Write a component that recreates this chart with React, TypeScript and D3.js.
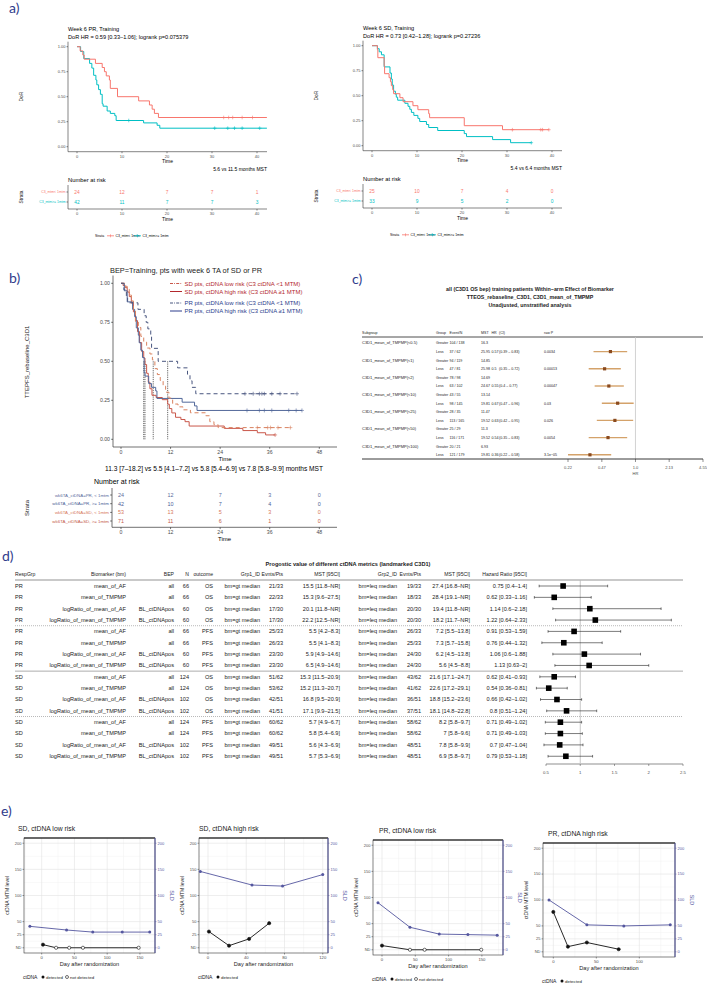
import * as d3 from 'd3';

type Step = [number, number];

const SANS = "'Liberation Sans', Arial, Helvetica, sans-serif";
const TAG_FONT = "Lato, 'Open Sans', sans-serif";
const TAG_COLOR = '#303c8c';
const AXIS_TXT = '#4d4d4d';

// ---------- a) DoR by C3 ctDNA, week 6 PR / week 6 SD ----------
const aPrLow: Step[] = [[0, 1], [0.7, 0.958], [1.3, 0.917], [1.6, 0.875], [4.1, 0.833], [5.6, 0.792], [6.1, 0.75], [6.5, 0.708], [7.2, 0.667], [7.4, 0.583], [9.0, 0.5], [13.7, 0.458], [16.1, 0.417], [16.7, 0.375], [17.2, 0.333], [18.1, 0.292]];
const aPrLowCensor = [32.6, 33.7, 34.6, 36.7, 39.0];
const aPrHigh: Step[] = [[0, 1], [0.8, 0.952], [1.5, 0.881], [2.8, 0.833], [3.3, 0.786], [3.7, 0.714], [4.2, 0.667], [4.4, 0.619], [4.8, 0.571], [5.2, 0.524], [5.6, 0.429], [5.8, 0.405], [6.7, 0.357], [7.4, 0.333], [8.4, 0.31], [8.7, 0.262], [14.8, 0.238], [17.8, 0.214], [18.4, 0.185]];
const aPrHighCensor = [11.5, 30.6, 33.5, 35.0, 36.7, 40.6];
const aSdLow: Step[] = [[0, 1], [1.2, 0.96], [1.3, 0.88], [2.7, 0.8], [2.8, 0.72], [3.8, 0.68], [4.1, 0.64], [4.3, 0.6], [4.6, 0.56], [4.8, 0.52], [6.2, 0.48], [6.9, 0.44], [9.1, 0.4], [10.2, 0.36], [12.6, 0.32], [12.8, 0.28], [20.5, 0.2], [29.0, 0.16]];
const aSdLowCensor = [31.2, 37.5, 37.9, 39.3];
const aSdHigh: Step[] = [[0, 1], [1.2, 0.97], [1.6, 0.939], [2.1, 0.909], [2.7, 0.788], [4.0, 0.727], [4.3, 0.667], [4.5, 0.606], [4.8, 0.545], [5.2, 0.515], [5.4, 0.485], [5.7, 0.455], [7.3, 0.424], [8.0, 0.394], [8.4, 0.364], [8.75, 0.333], [9.3, 0.303], [10.2, 0.273], [10.6, 0.242], [12.1, 0.212], [12.6, 0.182], [14.6, 0.152], [20.5, 0.121], [21.0, 0.091], [26.8, 0.061], [30.8, 0.03]];
const aSdHighCensor = [35.4];
const aTimeTicks = [0, 10, 20, 30, 40];
const aSurvTicks = [0, 0.25, 0.5, 0.75, 1];
const aPrRiskLow = [24, 12, 7, 7, 1];
const aPrRiskHigh = [42, 11, 7, 7, 3];
const aSdRiskLow = [25, 10, 7, 4, 0];
const aSdRiskHigh = [33, 9, 5, 2, 0];
const aStrata = ['C3_mtm< 1mtm', 'C3_mtm>= 1mtm'];

// ---------- b) PFS, 4 groups ----------
const bTimeTicks = [0, 12, 24, 36, 48];
const bSdLow: Step[] = [[0, 1], [1, 0.981], [1.5, 0.962], [2, 0.925], [2.5, 0.887], [3, 0.83], [3.5, 0.755], [4.2, 0.717], [4.8, 0.66], [5.5, 0.623], [6.2, 0.585], [7, 0.547], [7.6, 0.509], [8.2, 0.453], [8.8, 0.415], [9.5, 0.377], [10.2, 0.34], [10.8, 0.302], [11.6, 0.264], [12.5, 0.226], [13.8, 0.208], [15, 0.189], [16.8, 0.17], [20.5, 0.151], [21.5, 0.113], [22.5, 0.094], [23.5, 0.075]];
const bSdLowCensor = [33, 35.5, 36.2, 38, 41];
const bSdHigh: Step[] = [[0, 1], [0.5, 0.986], [1, 0.972], [1.5, 0.944], [2, 0.915], [2.5, 0.873], [3, 0.817], [3.5, 0.761], [4, 0.69], [4.5, 0.62], [5, 0.563], [5.5, 0.521], [5.8, 0.479], [6.2, 0.423], [6.6, 0.366], [7, 0.324], [7.5, 0.282], [8.5, 0.268], [10, 0.254], [11.3, 0.225], [11.7, 0.197], [12.3, 0.169], [13.2, 0.141], [14.5, 0.127], [15.5, 0.113], [16.5, 0.085], [25, 0.07], [29.5, 0.056], [33, 0.042], [35, 0.028]];
const bSdHighCensor = [37.3];
const bPrLowCensor = [30, 32, 33.5, 34.1, 34.7, 36.5, 38.5, 42.6];
const bPrHighCensor = [30.5, 33.5, 34.7, 36.5, 40.6, 42.4, 43.8];
const bMedians = [5.5, 5.8, 7.8, 11.3];
const bRiskPrLow = [24, 12, 7, 3, 0];
const bRiskPrHigh = [42, 10, 7, 4, 0];
const bRiskSdLow = [53, 13, 5, 3, 0];
const bRiskSdHigh = [71, 11, 6, 1, 0];
const bStrata = ['wk6TA_ctDNA=PR, < 1mtm', 'wk6TA_ctDNA=PR, >= 1mtm', 'wk6TA_ctDNA=SD, < 1mtm', 'wk6TA_ctDNA=SD, >= 1mtm'];
const bLegend = ['SD pts, ctDNA low risk (C3 ctDNA <1 MTM)', 'SD pts, ctDNA high risk (C3 ctDNA \u22651 MTM)', 'PR pts, ctDNA low risk (C3 ctDNA <1 MTM)', 'PR pts, ctDNA high risk (C3 ctDNA \u22651 MTM)'];

// ---------- c) within-arm effect ----------
const cCutoffs = ['0.5', '1', '2', '10', '25', '50', '100'];
const cGreaterEvents = ['104 / 138', '94 / 119', '78 / 98', '43 / 55', '28 / 35', '25 / 29', '20 / 21'];
const cGreaterMst = [16.3, 14.85, 14.69, 13.14, 11.47, 11.3, 6.93];
const cLessEvents = ['37 / 62', '47 / 81', '63 / 102', '98 / 145', '113 / 165', '116 / 171', '121 / 179'];
const cLessMst = [25.95, 25.98, 24.67, 19.81, 19.52, 19.52, 19.81];
const cHr = [0.57, 0.5, 0.55, 0.67, 0.63, 0.54, 0.36];
const cLo = [0.39, 0.35, 0.4, 0.47, 0.42, 0.35, 0.22];
const cHi = [0.83, 0.72, 0.77, 0.96, 0.95, 0.83, 0.58];
const cP = ['0.0034', '0.00013', '0.00047', '0.03', '0.026', '0.0054', '3.1e\u221205'];
const cAxisTicks = [0.22, 0.47, 1.0, 2.13, 4.55];
const cAxisLabels = ['0.22', '0.47', '1.0', '2.13', '4.55'];

// ---------- d) prognostic value table ----------
const dResp = ['PR', 'PR', 'PR', 'PR', 'PR', 'PR', 'PR', 'PR', 'SD', 'SD', 'SD', 'SD', 'SD', 'SD', 'SD', 'SD'];
const dBiomarker = ['mean_of_AF', 'mean_of_TMPMP', 'logRatio_of_mean_of_AF', 'logRatio_of_mean_of_TMPMP', 'mean_of_AF', 'mean_of_TMPMP', 'logRatio_of_mean_of_AF', 'logRatio_of_mean_of_TMPMP', 'mean_of_AF', 'mean_of_TMPMP', 'logRatio_of_mean_of_AF', 'logRatio_of_mean_of_TMPMP', 'mean_of_AF', 'mean_of_TMPMP', 'logRatio_of_mean_of_AF', 'logRatio_of_mean_of_TMPMP'];
const dBep = ['all', 'all', 'BL_ctDNApos', 'BL_ctDNApos', 'all', 'all', 'BL_ctDNApos', 'BL_ctDNApos', 'all', 'all', 'BL_ctDNApos', 'BL_ctDNApos', 'all', 'all', 'BL_ctDNApos', 'BL_ctDNApos'];
const dN = [66, 66, 60, 60, 66, 66, 60, 60, 124, 124, 102, 102, 124, 124, 102, 102];
const dOutcome = ['OS', 'OS', 'OS', 'OS', 'PFS', 'PFS', 'PFS', 'PFS', 'OS', 'OS', 'OS', 'OS', 'PFS', 'PFS', 'PFS', 'PFS'];
const dG1Events = ['21/33', '22/33', '17/30', '17/30', '25/33', '26/33', '23/30', '23/30', '51/62', '53/62', '42/51', '41/51', '60/62', '60/62', '49/51', '49/51'];
const dG1Mst = ['15.5 [11.8\u2013NR]', '15.3 [9.6\u201327.5]', '20.1 [11.8\u2013NR]', '22.2 [12.5\u2013NR]', '5.5 [4.2\u20138.3]', '5.5 [4.1\u20138.3]', '5.9 [4.9\u201314.6]', '6.5 [4.9\u201314.6]', '15.3 [11.5\u201320.9]', '15.2 [11.3\u201320.7]', '16.8 [9.5\u201320.9]', '17.1 [9.9\u201321.5]', '5.7 [4.9\u20136.7]', '5.8 [5.4\u20136.9]', '5.6 [4.3\u20136.9]', '5.7 [5.3\u20136.9]'];
const dG2Events = ['19/33', '18/33', '20/30', '20/30', '26/33', '25/33', '24/30', '24/30', '43/62', '41/62', '36/51', '37/51', '58/62', '58/62', '48/51', '48/51'];
const dG2Mst = ['27.4 [16.8\u2013NR]', '28.4 [19.1\u2013NR]', '19.4 [11.8\u2013NR]', '18.2 [11.7\u2013NR]', '7.2 [5.5\u201313.8]', '7.3 [5.7\u201315.8]', '6.2 [4.5\u201313.8]', '5.6 [4.5\u20138.8]', '21.6 [17.1\u201324.7]', '22.6 [17.2\u201329.1]', '18.8 [15.2\u201323.6]', '18.1 [14.8\u201322.8]', '8.2 [5.8\u20139.7]', '7 [5.8\u20139.6]', '7.8 [5.8\u20139.9]', '6.9 [5.8\u20139.7]'];
const dHr = [0.75, 0.62, 1.14, 1.22, 0.91, 0.76, 1.06, 1.13, 0.62, 0.54, 0.66, 0.8, 0.71, 0.71, 0.7, 0.79];
const dLo = [0.4, 0.33, 0.6, 0.64, 0.53, 0.44, 0.6, 0.63, 0.41, 0.36, 0.42, 0.51, 0.49, 0.49, 0.47, 0.53];
const dHi = [1.4, 1.16, 2.18, 2.33, 1.59, 1.32, 1.88, 2, 0.93, 0.81, 1.02, 1.24, 1.02, 1.03, 1.04, 1.18];
const dAxisTicks = [0.5, 1, 1.5, 2, 2.5];

// ---------- e) patient profiles ----------
const e1SldDay = [-18, 38, 78, 123, 165];
const e1Sld = [41, 34, 30, 30, 30];
const e1CtDay = [2, 22, 42, 63, 148];
const e1Ct = [6, 0, 0, 0, 0];
const e1Detected = [true, false, false, false, false];
const e2SldDay = [-8, 46, 78, 120];
const e2Sld = [146, 120, 118, 140];
const e2CtDay = [1, 22, 43, 64];
const e2Ct = [31, 4, 17, 47];
const e2Detected = [true, true, true, true];
const e3SldDay = [-6, 42, 86, 129, 173];
const e3Sld = [90, 43, 30, 29, 28];
const e3CtDay = [0, 42, 64, 149];
const e3Ct = [8, 0, 0, 0];
const e3Detected = [true, false, false, false];
const e4SldDay = [-5, 39, 82, 136];
const e4Sld = [100, 52, 50, 52];
const e4CtDay = [0, 17, 39, 76];
const e4Ct = [77, 10, 18, 5];
const e4Detected = [true, true, true, true];
const eLevelTicks = [0, 25, 50, 100, 150, 200];
const eLevelLabels = ['ND', '25', '50', '100', '150', '200'];
const eSldLabels = ['0', '25', '50', '100', '150', '200'];

const A_RED = '#F8766D';
const A_TEAL = '#00BFC4';
const SD_LINE = '#c9574a';
const SD_DASH = '#d9825f';
const PR_LINE = '#52689a';
const PR_DASH = '#49567f';
const SLD_BLUE = '#55579f';

type Scale = (v: number) => number;

function kmPath(steps: Step[], end: number, x: Scale, y: Scale) {
  const pts: Step[] = [...steps, [end, steps[steps.length - 1][1]]];
  return d3.line<Step>().x((d) => x(d[0])).y((d) => y(d[1])).curve(d3.curveStepAfter)(pts) || '';
}

function survAt(steps: Step[], t: number) {
  let s = steps[0][1];
  steps.forEach(([tt, ss]) => {
    if (tt <= t) s = ss;
  });
  return s;
}

const Censors = ({ steps, times, x, y, color, size = 1.8 }: { steps: Step[]; times: number[]; x: Scale; y: Scale; color: string; size?: number }) => (
  <g stroke={color} strokeWidth={0.6}>
    {times.map((t, i) => {
      const cx = x(t);
      const cy = y(survAt(steps, t));
      return <path key={i} d={`M${cx},${cy - size}V${cy + size}M${cx - size},${cy}H${cx + size}`} />;
    })}
  </g>
);

const VText = ({ x, y, size, children, fill = '#222', rot = -90 }: any) => (
  <text transform={`translate(${x},${y}) rotate(${rot})`} textAnchor="middle" fontSize={size} fill={fill}>
    {children}
  </text>
);

type KMAProps = {
  ox: number;
  dy: number;
  title: string;
  subtitle: string;
  mst: string;
  low: Step[];
  lowCensor: number[];
  lowEnd: number;
  high: Step[];
  highCensor: number[];
  highEnd: number;
  riskLow: number[];
  riskHigh: number[];
};

const KMPanelA = ({ ox, dy, title, subtitle, mst, low, lowCensor, lowEnd, high, highCensor, highEnd, riskLow, riskHigh }: KMAProps) => {
  const x = d3.scaleLinear().domain([0, 40]).range([ox + 9, ox + 189]);
  const y = d3.scaleLinear().domain([0, 1]).range([146.7 + dy, 46.7 + dy]);
  const right = ox + 199;
  const top = 41.7 + dy;
  const bottom = 151.7 + dy;
  const tb = 209 + dy;
  const rowY = [192 + dy, 202 + dy];
  const ax = { stroke: '#333', strokeWidth: 0.6 };
  return (
    <g>
      <text x={ox} y={31 + dy} fontSize={5.6}>{title}</text>
      <text x={ox} y={39 + dy} fontSize={5.6}>{subtitle}</text>
      <line x1={ox} x2={ox} y1={top} y2={bottom} {...ax} />
      <line x1={ox} x2={right} y1={bottom} y2={bottom} {...ax} />
      {aSurvTicks.map((v) => (
        <g key={v}>
          <line x1={ox - 1.5} x2={ox} y1={y(v)} y2={y(v)} {...ax} />
          <text x={ox - 2.5} y={y(v) + 1.4} fontSize={4} textAnchor="end" fill={AXIS_TXT}>{v.toFixed(2)}</text>
        </g>
      ))}
      {aTimeTicks.map((t) => (
        <g key={t}>
          <line x1={x(t)} x2={x(t)} y1={bottom} y2={bottom + 1.5} {...ax} />
          <text x={x(t)} y={bottom + 6} fontSize={4} textAnchor="middle" fill={AXIS_TXT}>{t}</text>
        </g>
      ))}
      <text x={(ox + right) / 2} y={bottom + 11.5} fontSize={5} textAnchor="middle">Time</text>
      <VText x={ox - 45} y={(top + bottom) / 2} size={4.8}>DoR</VText>
      <path d={kmPath(high, highEnd, x, y)} fill="none" stroke={A_TEAL} strokeWidth={1} />
      <path d={kmPath(low, lowEnd, x, y)} fill="none" stroke={A_RED} strokeWidth={1} />
      <Censors steps={high} times={highCensor} x={x} y={y} color={A_TEAL} />
      <Censors steps={low} times={lowCensor} x={x} y={y} color={A_RED} />
      <text x={right} y={170.5 + dy} fontSize={5} textAnchor="end">{mst}</text>
      {/* risk table */}
      <text x={ox} y={181.5 + dy} fontSize={5.8}>Number at risk</text>
      <line x1={ox} x2={ox} y1={185 + dy} y2={tb} {...ax} />
      <line x1={ox} x2={right} y1={tb} y2={tb} {...ax} />
      {[riskLow, riskHigh].map((row, r) => (
        <g key={r} fill={r === 0 ? A_RED : A_TEAL}>
          <line x1={ox - 1.5} x2={ox} y1={rowY[r]} y2={rowY[r]} {...ax} />
          <text x={ox - 2.5} y={rowY[r] + 1.2} fontSize={3.4} textAnchor="end">{aStrata[r]}</text>
          {row.map((n, i) => (
            <text key={i} x={x(aTimeTicks[i])} y={rowY[r] + 1.8} fontSize={4.8} textAnchor="middle">{n}</text>
          ))}
        </g>
      ))}
      {aTimeTicks.map((t) => (
        <g key={t}>
          <line x1={x(t)} x2={x(t)} y1={tb} y2={tb + 1.5} {...ax} />
          <text x={x(t)} y={tb + 6} fontSize={4} textAnchor="middle" fill={AXIS_TXT}>{t}</text>
        </g>
      ))}
      <text x={(ox + right) / 2} y={tb + 11.5} fontSize={5} textAnchor="middle">Time</text>
      <VText x={ox - 45} y={(rowY[0] + rowY[1]) / 2} size={4.8}>Strata</VText>
      {/* legend */}
      <g fontSize={3.4}>
        <text x={ox + 27} y={237 + dy}>Strata</text>
        <line x1={ox + 39} x2={ox + 46} y1={235.8 + dy} y2={235.8 + dy} stroke={A_RED} strokeWidth={0.8} />
        <line x1={ox + 42.5} x2={ox + 42.5} y1={234.3 + dy} y2={237.3 + dy} stroke={A_RED} strokeWidth={0.6} />
        <text x={ox + 47.5} y={237 + dy}>{aStrata[0]}</text>
        <line x1={ox + 66} x2={ox + 73} y1={235.8 + dy} y2={235.8 + dy} stroke={A_TEAL} strokeWidth={0.8} />
        <line x1={ox + 69.5} x2={ox + 69.5} y1={234.3 + dy} y2={237.3 + dy} stroke={A_TEAL} strokeWidth={0.6} />
        <text x={ox + 74.5} y={237 + dy}>{aStrata[1]}</text>
      </g>
    </g>
  );
};

const KMPanelB = () => {
  const ox = 113;
  const x = d3.scaleLinear().domain([0, 48]).range([121, 319.3]);
  const y = d3.scaleLinear().domain([0, 1]).range([439.3, 283.3]);
  const right = 337;
  const top = 275.5;
  const bottom = 447;
  const tx = 112;
  const tb = 527.3;
  const ax = { stroke: '#333', strokeWidth: 0.7 };
  const rowY = [495, 503.7, 512.4, 521];
  const rowColors = ['#5b6c9c', '#4a5e96', '#d6775a', '#c45a4b'];
  const risks = [bRiskPrLow, bRiskPrHigh, bRiskSdLow, bRiskSdHigh];
  const legend = [
    { y: 283.5, color: '#b3282d', line: SD_LINE, dash: '3,1.2,0.8,1.2' },
    { y: 291.5, color: '#b3282d', line: '#b3282d', dash: '' },
    { y: 303, color: '#2c3d8c', line: PR_DASH, dash: '3,1.2,0.8,1.2' },
    { y: 311, color: '#2c3d8c', line: '#2c3d8c', dash: '' },
  ];
  return (
    <g>
      <text x={110} y={272.5} fontSize={7.4} fill="#222">BEP=Training, pts with week 6 TA of SD or PR</text>
      <line x1={ox} x2={ox} y1={top} y2={bottom} {...ax} />
      <line x1={ox} x2={right} y1={bottom} y2={bottom} {...ax} />
      {aSurvTicks.map((v) => (
        <g key={v}>
          <line x1={ox - 1.8} x2={ox} y1={y(v)} y2={y(v)} {...ax} />
          <text x={ox - 3} y={y(v) + 1.8} fontSize={5.2} textAnchor="end" fill={AXIS_TXT}>{v.toFixed(2)}</text>
        </g>
      ))}
      {bTimeTicks.map((t) => (
        <g key={t}>
          <line x1={x(t)} x2={x(t)} y1={bottom} y2={bottom + 1.8} {...ax} />
          <text x={x(t)} y={bottom + 7} fontSize={5.2} textAnchor="middle" fill={AXIS_TXT}>{t}</text>
        </g>
      ))}
      <text x={(ox + right) / 2} y={bottom + 14} fontSize={6} textAnchor="middle">Time</text>
      <VText x={29} y={362} size={6}>TTEPFS_rebaseline_C3D1</VText>
      {bMedians.map((m) => (
        <line key={m} x1={x(m)} x2={x(m)} y1={y(0.5)} y2={y(0)} stroke="#222" strokeWidth={0.7} strokeDasharray="1.2,1" />
      ))}
      <path d={kmPath(bSdHigh, 37.3, x, y)} fill="none" stroke={SD_LINE} strokeWidth={1} />
      <path d={kmPath(aPrHigh, 43.8, x, y)} fill="none" stroke={PR_LINE} strokeWidth={1} />
      <path d={kmPath(bSdLow, 41, x, y)} fill="none" stroke={SD_DASH} strokeWidth={1} strokeDasharray="4,3" />
      <path d={kmPath(aPrLow, 42.6, x, y)} fill="none" stroke={PR_DASH} strokeWidth={1} strokeDasharray="4,3" />
      <Censors steps={bSdHigh} times={bSdHighCensor} x={x} y={y} color={SD_LINE} size={2} />
      <Censors steps={aPrHigh} times={bPrHighCensor} x={x} y={y} color={PR_LINE} size={2} />
      <Censors steps={bSdLow} times={bSdLowCensor} x={x} y={y} color={SD_DASH} size={2} />
      <Censors steps={aPrLow} times={bPrLowCensor} x={x} y={y} color={PR_DASH} size={2} />
      {legend.map((l, i) => (
        <g key={i}>
          <line x1={170} x2={182} y1={l.y} y2={l.y} stroke={l.line} strokeWidth={1} strokeDasharray={l.dash || undefined} />
          <text x={184.5} y={l.y + 2.1} fontSize={6} fill={l.color}>{bLegend[i]}</text>
        </g>
      ))}
      <text x={214} y={471} fontSize={6.6} textAnchor="middle">
        11.3 [7{'\u2013'}18.2] vs 5.5 [4.1{'\u2013'}7.2] vs 5.8 [5.4{'\u2013'}6.9] vs 7.8 [5.8{'\u2013'}9.9] months MST
      </text>
      <text x={94} y={484} fontSize={7}>Number at risk</text>
      <line x1={tx} x2={tx} y1={488} y2={tb} {...ax} />
      <line x1={tx} x2={right} y1={tb} y2={tb} {...ax} />
      {risks.map((row, r) => (
        <g key={r} fill={rowColors[r]}>
          <line x1={tx - 1.8} x2={tx} y1={rowY[r]} y2={rowY[r]} {...ax} />
          <text x={tx - 3} y={rowY[r] + 1.6} fontSize={4.4} textAnchor="end">{bStrata[r]}</text>
          {row.map((n, i) => (
            <text key={i} x={x(bTimeTicks[i])} y={rowY[r] + 2} fontSize={5.4} textAnchor="middle">{n}</text>
          ))}
        </g>
      ))}
      {bTimeTicks.map((t) => (
        <g key={t}>
          <line x1={x(t)} x2={x(t)} y1={tb} y2={tb + 1.8} {...ax} />
          <text x={x(t)} y={tb + 7} fontSize={5.2} textAnchor="middle" fill={AXIS_TXT}>{t}</text>
        </g>
      ))}
      <text x={(tx + right) / 2} y={tb + 14} fontSize={6} textAnchor="middle">Time</text>
      <VText x={29} y={508} size={6}>Strata</VText>
    </g>
  );
};

const ForestC = () => {
  const x = d3.scaleLog().domain([0.22, 4.55]).range([568, 703]);
  const rowY = (i: number) => 343 + i * 8.6;
  const fs = 3.6;
  const col = { sub: 362, group: 436, ev: 449.5, mst: 481, hr: 491.5, ci: 499, p: 544 };
  return (
    <g fontSize={fs} fill="#222">
      <g fontWeight="bold" fontSize={5.3} textAnchor="middle">
        <text x={530} y={290.5}>all (C3D1 OS bep) training patients Within{'\u2212'}arm Effect of Biomarker</text>
        <text x={530} y={298.5}>TTEOS_rebaseline_C3D1, C3D1_mean_of_TMPMP</text>
        <text x={530} y={306.5}>Unadjusted, unstratified analysis</text>
      </g>
      <text x={col.sub} y={333.5}>Subgroup</text>
      <text x={col.group} y={333.5}>Group</text>
      <text x={col.ev} y={333.5}>Event/N</text>
      <text x={col.mst} y={333.5}>MST</text>
      <text x={col.hr} y={333.5}>HR</text>
      <text x={col.ci} y={333.5}>(CI)</text>
      <text x={col.p} y={333.5}>raw P</text>
      <line x1={362} x2={703} y1={337} y2={337} stroke="#222" strokeWidth={0.8} />
      <line x1={x(1)} x2={x(1)} y1={337} y2={459} stroke="#c8c8c8" strokeWidth={0.8} />
      {cCutoffs.map((c, i) => {
        const yg = rowY(2 * i);
        const yl = rowY(2 * i + 1);
        return (
          <g key={c}>
            <text x={col.sub} y={yg + 1.3} fontSize={4}>{`C3D1_mean_of_TMPMP(<${c})`}</text>
            <text x={col.group} y={yg + 1.3}>Greater</text>
            <text x={col.ev} y={yg + 1.3}>{cGreaterEvents[i]}</text>
            <text x={col.mst} y={yg + 1.3}>{cGreaterMst[i]}</text>
            <text x={col.group} y={yl + 1.3}>Less</text>
            <text x={col.ev} y={yl + 1.3}>{cLessEvents[i]}</text>
            <text x={col.mst} y={yl + 1.3}>{cLessMst[i]}</text>
            <text x={col.hr} y={yl + 1.3}>{cHr[i]}</text>
            <text x={col.ci} y={yl + 1.3}>{`(${cLo[i]} \u2013 ${cHi[i]})`}</text>
            <text x={col.p} y={yl + 1.3}>{cP[i]}</text>
            <line x1={x(cLo[i])} x2={x(cHi[i])} y1={yl} y2={yl} stroke="#d4a26a" strokeWidth={1.4} />
            <rect x={x(cHr[i]) - 1.6} y={yl - 1.6} width={3.2} height={3.2} fill="#8a4a1e" />
          </g>
        );
      })}
      <line x1={362} x2={703} y1={459} y2={459} stroke="#222" strokeWidth={0.9} />
      {cAxisTicks.map((t, i) => (
        <g key={t}>
          <line x1={x(t)} x2={x(t)} y1={459} y2={462} stroke="#222" strokeWidth={0.5} />
          <text x={x(t)} y={468.5} fontSize={4} textAnchor="middle" fill={AXIS_TXT}>{cAxisLabels[i]}</text>
        </g>
      ))}
      <text x={x(1)} y={474.5} fontSize={4} textAnchor="middle" fill={AXIS_TXT}>HR</text>
    </g>
  );
};

const TableD = () => {
  const x = d3.scaleLinear().domain([0.5, 2.5]).range([546, 683]);
  const rowY = (i: number) => 586 + i * 11.35;
  const sep = (i: number) => 586 + (i + 0.5) * 11.35;
  const fs = 5.6;
  const b = 1.9;
  const col = { resp: 15, bm: 126, bep: 174, n: 189, out: 213, g1: 260, e1: 283, m1: 340, g2: 397, e2: 421, m2: 470, hr: 527 };
  return (
    <g fontSize={fs} fill="#222">
      <text x={348} y={566} fontSize={5.6} fontWeight="bold" textAnchor="middle">
        Progostic value of different ctDNA metrics (landmarked C3D1)
      </text>
      <g fontSize={5.1}>
        <text x={col.resp} y={576}>RespGrp</text>
        <text x={col.bm} y={576} textAnchor="end">Biomarker (bm)</text>
        <text x={col.bep} y={576} textAnchor="end">BEP</text>
        <text x={col.n} y={576} textAnchor="end">N</text>
        <text x={col.out} y={576} textAnchor="end">outcome</text>
        <text x={col.g1} y={576} textAnchor="end">Grp1_ID</text>
        <text x={col.e1} y={576} textAnchor="end">Evnts/Pts</text>
        <text x={col.m1} y={576} textAnchor="end">MST [95CI]</text>
        <text x={col.g2} y={576} textAnchor="end">Grp2_ID</text>
        <text x={col.e2} y={576} textAnchor="end">Evnts/Pts</text>
        <text x={col.m2} y={576} textAnchor="end">MST [95CI]</text>
        <text x={col.hr} y={576} textAnchor="end">Hazard Ratio [95CI]</text>
      </g>
      <line x1={15} x2={683} y1={580} y2={580} stroke="#666" strokeWidth={0.7} />
      <line x1={15} x2={683} y1={sep(3)} y2={sep(3)} stroke="#888" strokeWidth={0.6} strokeDasharray="1,1" />
      <line x1={15} x2={683} y1={sep(7)} y2={sep(7)} stroke="#888" strokeWidth={0.7} />
      <line x1={15} x2={683} y1={sep(11)} y2={sep(11)} stroke="#888" strokeWidth={0.6} strokeDasharray="1,1" />
      <line x1={x(1)} x2={x(1)} y1={580} y2={763} stroke="#b8b8b8" strokeWidth={0.8} />
      {dResp.map((r, i) => {
        const y = rowY(i);
        return (
          <g key={i}>
            <text x={col.resp} y={y + b}>{r}</text>
            <text x={col.bm} y={y + b} textAnchor="end">{dBiomarker[i]}</text>
            <text x={col.bep} y={y + b} textAnchor="end">{dBep[i]}</text>
            <text x={col.n} y={y + b} textAnchor="end">{dN[i]}</text>
            <text x={col.out} y={y + b} textAnchor="end">{dOutcome[i]}</text>
            <text x={col.g1} y={y + b} textAnchor="end">bm=gt median</text>
            <text x={col.e1} y={y + b} textAnchor="end">{dG1Events[i]}</text>
            <text x={col.m1} y={y + b} textAnchor="end">{dG1Mst[i]}</text>
            <text x={col.g2} y={y + b} textAnchor="end">bm=leq median</text>
            <text x={col.e2} y={y + b} textAnchor="end">{dG2Events[i]}</text>
            <text x={col.m2} y={y + b} textAnchor="end">{dG2Mst[i]}</text>
            <text x={col.hr} y={y + b} textAnchor="end">{`${dHr[i]} [${dLo[i]}\u2013${dHi[i]}]`}</text>
            <g stroke="#222" strokeWidth={0.6}>
              <line x1={x(dLo[i])} x2={x(dHi[i])} y1={y} y2={y} />
              <line x1={x(dLo[i])} x2={x(dLo[i])} y1={y - 1.3} y2={y + 1.3} />
              <line x1={x(dHi[i])} x2={x(dHi[i])} y1={y - 1.3} y2={y + 1.3} />
            </g>
            <rect x={x(dHr[i]) - 2.8} y={y - 2.8} width={5.6} height={5.6} fill="#000" />
          </g>
        );
      })}
      <line x1={x(0.5)} x2={x(2.5)} y1={764} y2={764} stroke="#444" strokeWidth={0.6} />
      {dAxisTicks.map((t) => (
        <g key={t}>
          <line x1={x(t)} x2={x(t)} y1={764} y2={766} stroke="#444" strokeWidth={0.5} />
          <text x={x(t)} y={773.5} fontSize={4.3} textAnchor="middle" fill={AXIS_TXT}>{t}</text>
        </g>
      ))}
    </g>
  );
};

type SpiderProps = {
  x0: number;
  x1: number;
  y0: number;
  y1: number;
  dayDomain: [number, number];
  dayTicks: number[];
  title: string;
  titleX: number;
  sldDay: number[];
  sld: number[];
  ctDay: number[];
  ct: number[];
  detected: boolean[];
};

const SpiderPlot = ({ x0, x1, y0, y1, dayDomain, dayTicks, title, titleX, sldDay, sld, ctDay, ct, detected }: SpiderProps) => {
  const x = d3.scaleLinear().domain(dayDomain).range([x0, x1]);
  const y = d3.scaleLinear().domain([-10, 210]).range([y1, y0]);
  const step = dayTicks[1] - dayTicks[0];
  const minor = d3.range(dayTicks[0] - step / 2, dayDomain[1], step).filter((d) => d > dayDomain[0]);
  const pathOf = d3.line<[number, number]>().x((d) => x(d[0])).y((d) => y(d[1]));
  const sldPath = pathOf(sldDay.map((d, i) => [d, sld[i]]));
  const ctPath = pathOf(ctDay.map((d, i) => [d, ct[i]]));
  const anyNd = detected.some((d) => !d);
  const midY = (y0 + y1) / 2;
  return (
    <g>
      <text x={titleX} y={y0 - 7} fontSize={6.8} fill="#222">{title}</text>
      <rect x={x0} y={y0} width={x1 - x0} height={y1 - y0} fill="#fff" />
      {minor.map((d) => (
        <line key={`m${d}`} x1={x(d)} x2={x(d)} y1={y0} y2={y1} stroke="#f0f0f0" strokeWidth={0.5} />
      ))}
      {[12.5, 37.5, 75, 125, 175].map((v) => (
        <line key={`h${v}`} x1={x0} x2={x1} y1={y(v)} y2={y(v)} stroke="#f0f0f0" strokeWidth={0.5} />
      ))}
      {dayTicks.map((d) => (
        <line key={`g${d}`} x1={x(d)} x2={x(d)} y1={y0} y2={y1} stroke="#e3e3e3" strokeWidth={0.6} />
      ))}
      {eLevelTicks.map((v) => (
        <line key={`gy${v}`} x1={x0} x2={x1} y1={y(v)} y2={y(v)} stroke="#e3e3e3" strokeWidth={0.6} />
      ))}
      <rect x={x0} y={y0} width={x1 - x0} height={y1 - y0} fill="none" stroke="#333" strokeWidth={0.6} />
      <line x1={x0} x2={x1} y1={y0} y2={y0} stroke="#111" strokeWidth={1.1} />
      <line x1={x1} x2={x1} y1={y0} y2={y1} stroke={SLD_BLUE} strokeWidth={1} />
      {eLevelTicks.map((v, i) => (
        <g key={`t${v}`}>
          <line x1={x0 - 1.5} x2={x0} y1={y(v)} y2={y(v)} stroke="#333" strokeWidth={0.5} />
          <text x={x0 - 2.5} y={y(v) + 1.4} fontSize={4} textAnchor="end" fill={AXIS_TXT}>{eLevelLabels[i]}</text>
          <line x1={x1} x2={x1 + 1.5} y1={y(v)} y2={y(v)} stroke={SLD_BLUE} strokeWidth={0.5} />
          <text x={x1 + 2.5} y={y(v) + 1.4} fontSize={4} fill={SLD_BLUE}>{eSldLabels[i]}</text>
        </g>
      ))}
      {dayTicks.map((d) => (
        <g key={`x${d}`}>
          <line x1={x(d)} x2={x(d)} y1={y1} y2={y1 + 1.5} stroke="#333" strokeWidth={0.5} />
          <text x={x(d)} y={y1 + 6} fontSize={4.2} textAnchor="middle" fill={AXIS_TXT}>{d}</text>
        </g>
      ))}
      <text x={(x0 + x1) / 2} y={y1 + 12.5} fontSize={5.6} textAnchor="middle" fill="#222">Day after randomization</text>
      <VText x={x0 - 15} y={midY} size={5}>ctDNA MTM level</VText>
      <VText x={x1 + 15} y={midY} size={5.4} fill={SLD_BLUE} rot={90}>SLD</VText>
      <path d={sldPath || ''} fill="none" stroke={SLD_BLUE} strokeWidth={0.9} />
      {sldDay.map((d, i) => (
        <circle key={`s${i}`} cx={x(d)} cy={y(sld[i])} r={1.5} fill={SLD_BLUE} />
      ))}
      <path d={ctPath || ''} fill="none" stroke="#111" strokeWidth={0.9} />
      {ctDay.map((d, i) => (
        <circle key={`c${i}`} cx={x(d)} cy={y(ct[i])} r={1.6} fill={detected[i] ? '#111' : '#fff'} stroke="#111" strokeWidth={0.6} />
      ))}
      <g fontSize={4.4} fill="#222">
        <text x={x0 - 1} y={y1 + 25.5} fontSize={5}>ctDNA</text>
        <circle cx={x0 + 19} cy={y1 + 24} r={1.5} fill="#111" />
        <text x={x0 + 22} y={y1 + 25.5}>detected</text>
        {anyNd && (
          <>
            <circle cx={x0 + 43} cy={y1 + 24} r={1.5} fill="#fff" stroke="#111" strokeWidth={0.6} />
            <text x={x0 + 46} y={y1 + 25.5}>not detected</text>
          </>
        )}
      </g>
    </g>
  );
};

const Tag = ({ x, y, children }: any) => (
  <text x={x} y={y} fontFamily={TAG_FONT} fontSize={14} fill={TAG_COLOR}>{children}</text>
);

export default function App() {
  return (
    <div style={{ position: 'absolute', left: 0, top: 0 }}>
      <svg width={707} height={983} style={{ display: 'block', background: '#fff' }} fontFamily={SANS}>
        <Tag x={9} y={13}>a)</Tag>
        <KMPanelA
          ox={68}
          dy={0}
          title="Week 6 PR, Training"
          subtitle={'DoR HR = 0.59 [0.33\u20131.06]; logrank p=0.075379'}
          mst="5.6 vs 11.5 months MST"
          low={aPrLow}
          lowCensor={aPrLowCensor}
          lowEnd={42.2}
          high={aPrHigh}
          highCensor={aPrHighCensor}
          highEnd={42.2}
          riskLow={aPrRiskLow}
          riskHigh={aPrRiskHigh}
        />
        <KMPanelA
          ox={363}
          dy={-1}
          title="Week 6 SD, Training"
          subtitle={'DoR HR = 0.73 [0.42\u20131.28]; logrank p=0.27236'}
          mst="5.4 vs 6.4 months MST"
          low={aSdLow}
          lowCensor={aSdLowCensor}
          lowEnd={39.3}
          high={aSdHigh}
          highCensor={aSdHighCensor}
          highEnd={35.4}
          riskLow={aSdRiskLow}
          riskHigh={aSdRiskHigh}
        />
        <Tag x={9} y={283}>b)</Tag>
        <KMPanelB />
        <Tag x={352} y={284}>c)</Tag>
        <ForestC />
        <Tag x={2} y={561}>d)</Tag>
        <TableD />
        <Tag x={1} y={816}>e)</Tag>
        <SpiderPlot x0={24} x1={155} y0={838} y1={953} dayDomain={[-27, 173]} dayTicks={[0, 50, 100, 150]} title="SD, ctDNA low risk" titleX={18} sldDay={e1SldDay} sld={e1Sld} ctDay={e1CtDay} ct={e1Ct} detected={e1Detected} />
        <SpiderPlot x0={199} x1={328} y0={838} y1={953} dayDomain={[-9.4, 125.5]} dayTicks={[0, 40, 80, 120]} title="SD, ctDNA high risk" titleX={199} sldDay={e2SldDay} sld={e2Sld} ctDay={e2CtDay} ct={e2Ct} detected={e2Detected} />
        <SpiderPlot x0={373} x1={503} y0={840} y1={955} dayDomain={[-13.5, 181.7]} dayTicks={[0, 50, 100, 150]} title="PR, ctDNA low risk" titleX={379} sldDay={e3SldDay} sld={e3Sld} ctDay={e3CtDay} ct={e3Ct} detected={e3Detected} />
        <SpiderPlot x0={543} x1={675} y0={843} y1={957} dayDomain={[-12, 141.5]} dayTicks={[0, 50, 100]} title="PR, ctDNA high risk" titleX={548} sldDay={e4SldDay} sld={e4Sld} ctDay={e4CtDay} ct={e4Ct} detected={e4Detected} />
      </svg>
    </div>
  );
}
